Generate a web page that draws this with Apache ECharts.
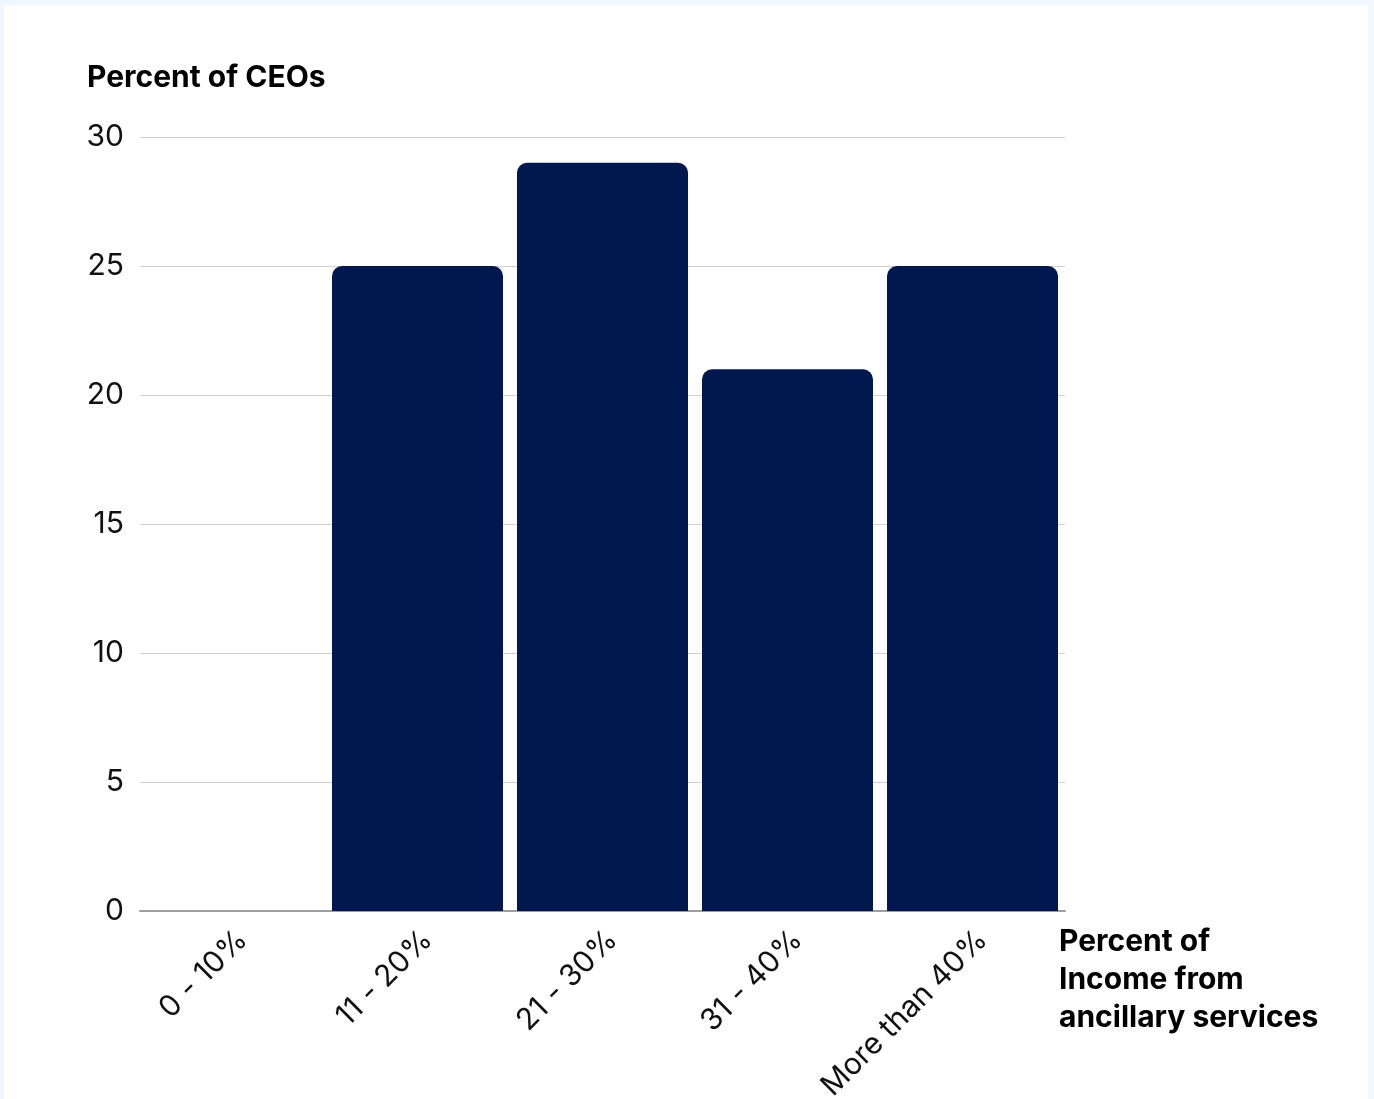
<!DOCTYPE html>
<html>
<head>
<meta charset="utf-8">
<script src="https://cdn.jsdelivr.net/npm/echarts@6/dist/echarts.min.js"></script>
<style>
  html, body { margin: 0; padding: 0; background: #f0f7fe; }
  #chart { position: absolute; left: 4px; top: 5px; width: 1364px; height: 1094px; background: #ffffff; }
</style>
</head>
<body>
<div id="chart"></div>
<script>
// income bands (x axis) and share of CEOs in each
var incomeBands = ['0 - 10%', '11 - 20%', '21 - 30%', '31 - 40%', 'More than 40%'];
var ceoPercent = [0, 25, 29, 21, 25];
var yTicks = [0, 5, 10, 15, 20, 25, 30];

var barColor = '#00184e';
var fontFamily = 'Inter, "Noto Sans", sans-serif';

var myChart = echarts.init(document.getElementById('chart'));

var option = {
    animation: false,
    grid: {
        left: 136,
        top: 132,
        width: 925,
        height: 774,
        containLabel: false,
        outerBoundsMode: 'none'
    },
    xAxis: {
        type: 'category',
        data: incomeBands,
        name: 'Percent of\nIncome from\nancillary services',
        nameLocation: 'end',
        nameGap: -6,
        nameTextStyle: {
            fontFamily: fontFamily,
            fontSize: 30,
            fontWeight: 'bold',
            color: '#000',
            align: 'left',
            verticalAlign: 'top',
            lineHeight: 38,
            padding: [12, 0, 0, 0]
        },
        axisLine: { show: true, lineStyle: { color: '#9e9e9e', width: 2 } },
        axisTick: { show: false },
        axisLabel: {
            rotate: 45,
            margin: 34,
            padding: [0, -14, 0, 0],
            fontFamily: fontFamily,
            fontSize: 30,
            color: '#111'
        }
    },
    yAxis: {
        type: 'value',
        min: 0,
        max: 30,
        interval: 5,
        name: 'Percent of CEOs',
        nameLocation: 'end',
        nameGap: 44,
        nameTextStyle: {
            fontFamily: fontFamily,
            fontSize: 30,
            fontWeight: 'bold',
            color: '#000',
            align: 'left',
            padding: [0, 0, 0, -53]
        },
        axisLine: { show: false },
        axisTick: { show: false },
        splitLine: { lineStyle: { color: '#d0d0d0', width: 1 } },
        axisLabel: {
            margin: 16,
            fontFamily: fontFamily,
            fontSize: 30,
            color: '#111',
            formatter: function (v) {
                return yTicks.indexOf(v) >= 0 ? String(v) : '';
            }
        }
    },
    series: [{
        type: 'bar',
        data: ceoPercent,
        barWidth: 171,
        itemStyle: {
            color: barColor,
            borderRadius: [10, 10, 0, 0]
        }
    }]
};

myChart.setOption(option);
</script>
</body>
</html>
